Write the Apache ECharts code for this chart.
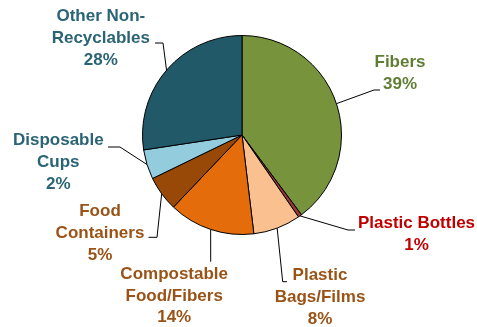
<!DOCTYPE html>
<html>
<head>
<meta charset="utf-8">
<script src="https://cdn.jsdelivr.net/npm/echarts@6/dist/echarts.min.js"></script>
<style>html,body{margin:0;padding:0;background:#fff;}#c{width:477px;height:327px;}</style>
</head>
<body>
<div id="c"></div>
<script>
const categories = ['Fibers', 'Plastic Bottles', 'Plastic\nBags/Films', 'Compostable\nFood/Fibers', 'Food\nContainers', 'Disposable\nCups', 'Other Non-\nRecyclables'];
const values = [39.8, 0.6, 7.7, 14.0, 5.7, 4.8, 27.4];
const percentLabels = ['39%', '1%', '8%', '14%', '5%', '2%', '28%'];

const sliceColors = ['#77933C', '#953735', '#FAC090', '#E46C0A', '#984807', '#93CDDD', '#215968'];
const textColors = ['#5F7E34', '#C00000', '#9A5316', '#9A5316', '#9A5316', '#2A6475', '#2A6475'];

const CX = 242, CY = 135, R = 99.5;
const labelCenters = [[400, 73.5], [416.5, 234], [320, 297.4], [174.2, 296], [100, 233.4], [58.3, 162.4], [100.8, 38.4]];
const leaderRest = [
  [[374, 90], [380, 90]],
  [[348, 230], [355, 230]],
  [[282.7, 281.7], [287, 281.7]],
  [[210.7, 261.7]],
  [[157, 237.3], [148.5, 237.3]],
  [[120, 147], [108, 147]],
  [[163, 43], [155, 43]]
];

const total = values.reduce((a, b) => a + b, 0);
function edgePoint(i) {
  let before = 0;
  for (let k = 0; k < i; k++) before += values[k];
  const mid = (before + values[i] / 2) / total * Math.PI * 2;
  return [CX + R * Math.sin(mid), CY - R * Math.cos(mid)];
}

const chart = echarts.init(document.getElementById('c'), null, {renderer: 'canvas'});
chart.setOption({
  backgroundColor: '#fff',
  animation: false,
  series: [{
    type: 'pie',
    center: [CX, CY],
    radius: [0, R],
    startAngle: 90,
    clockwise: true,
    avoidLabelOverlap: false,
    itemStyle: {borderColor: '#000', borderWidth: 1},
    emphasis: {disabled: true},
    label: {
      show: true,
      position: 'outside',
      fontFamily: 'Liberation Sans, Arial, sans-serif',
      fontWeight: 'bold',
      fontSize: 17,
      lineHeight: 21.7,
      align: 'center',
      formatter: p => p.name + '\n' + percentLabels[p.dataIndex]
    },
    labelLine: {show: true, length: 20, length2: 10, lineStyle: {color: '#000', width: 1}},
    labelLayout: function (params) {
      const i = params.dataIndex;
      return {
        x: labelCenters[i][0],
        y: labelCenters[i][1],
        align: 'center',
        verticalAlign: 'middle',
        labelLinePoints: [edgePoint(i)].concat(leaderRest[i])
      };
    },
    data: categories.map((name, i) => ({
      name: name,
      value: values[i],
      itemStyle: {color: sliceColors[i]},
      label: {color: textColors[i]}
    }))
  }]
});
</script>
</body>
</html>
